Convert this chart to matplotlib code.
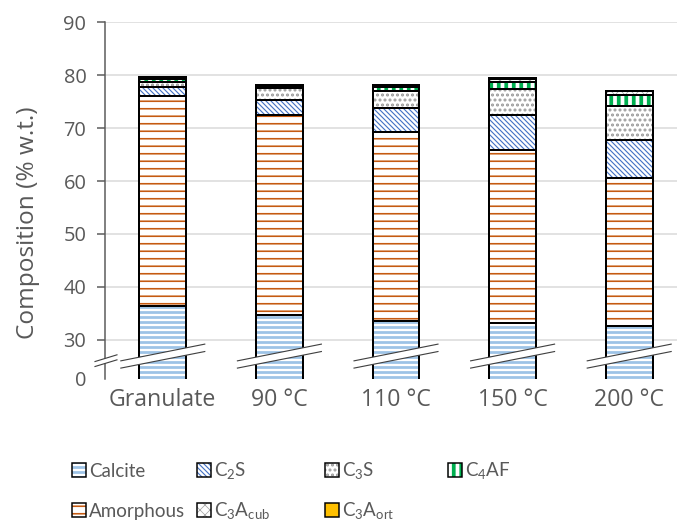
import numpy as np
import matplotlib.pyplot as plt
import matplotlib.transforms as mtransforms
from matplotlib.patches import Polygon, Rectangle

DPI = 90
W, H = 677, 522

categories = ['Granulate', '90 °C', '110 °C', '150 °C', '200 °C']
calcite = [36.4, 34.7, 33.6, 33.1, 32.6]
amorphous = [39.6, 37.7, 35.7, 32.8, 27.9]
c2s = [1.7, 3.0, 4.5, 6.5, 7.2]
c3s = [1.0, 2.1, 3.3, 5.0, 6.4]
c4af = [0.6, 0.4, 0.6, 1.3, 2.1]
c3a_cub = [0.3, 0.3, 0.5, 0.6, 0.8]
c3a_ort = [0.0, 0.0, 0.0, 0.2, 0.0]

yticks = [30, 40, 50, 60, 70, 80, 90]
ybottom = 22.6          # plotted bottom of the broken axis, labelled "0"

phases = ['Calcite', 'Amorphous', 'C2S', 'C3S', 'C4AF', 'C3Acub', 'C3Aort']
series = [calcite, amorphous, c2s, c3s, c4af, c3a_cub, c3a_ort]
labels = {'Calcite': 'Calcite', 'Amorphous': 'Amorphous',
          'C2S': r'C$_\mathrm{2}$S', 'C3S': r'C$_\mathrm{3}$S',
          'C4AF': r'C$_\mathrm{4}$AF', 'C3Acub': r'C$_\mathrm{3}$A$_\mathrm{cub}$',
          'C3Aort': r'C$_\mathrm{3}$A$_\mathrm{ort}$'}
styles = {
    'Calcite':   dict(face='white', hcol='#9dc3e6', hatch='---', hlw=2.2),
    'Amorphous': dict(face='white', hcol='#c55a11', hatch='--', hlw=1.3),
    'C2S':       dict(face='white', hcol='#4472c4', hatch='\\' * 6, hlw=0.9),
    'C3S':       dict(face='white', hcol='#9a9a9a', hatch='...', hlw=1.6),
    'C4AF':      dict(face='white', hcol='#00b050', hatch='||', hlw=3.0),
    'C3Acub':    dict(face='white', hcol='#a6a6a6', hatch='xxx', hlw=0.6),
    'C3Aort':    dict(face='#ffc000', hcol='#ffc000', hatch=None, hlw=0.6),
}
legend_rows = [['Calcite', 'C2S', 'C3S', 'C4AF'],
               ['Amorphous', 'C3Acub', 'C3Aort']]

plt.rcParams['font.family'] = ['Open Sans', 'DejaVu Sans']
plt.rcParams['mathtext.fontset'] = 'custom'
plt.rcParams['mathtext.rm'] = 'Lato'
grey = '#595959'

fig = plt.figure(figsize=(W / DPI, H / DPI), dpi=DPI)
ax = fig.add_axes([104.5 / W, 1 - 379 / H, 583 / W, (379 - 22.3) / H])


def hatched(obj, st):
    if hasattr(obj, 'set_hatch_linewidth'):
        obj.set_hatch_linewidth(st['hlw'])


x = np.arange(len(categories))
width = 0.4
bottom = np.zeros(len(categories))
for name, vals in zip(phases, series):
    st = styles[name]
    vals = np.array(vals)
    with plt.rc_context({'hatch.linewidth': st['hlw']}):
        bars = ax.bar(x, vals, width, bottom=bottom, color=st['face'],
                      edgecolor=st['hcol'], hatch=st['hatch'], linewidth=0, zorder=2)
    for b in bars:
        hatched(b, st)
    ax.bar(x, vals, width, bottom=bottom, fill=False, edgecolor='black',
           linewidth=1.6, zorder=3)
    bottom += vals

# break marks across bars
half = 0.36
lo = (24.66, 27.79)
hi = (26.03, 29.19)
for c in x:
    ax.add_patch(Polygon([(c - half, lo[0]), (c + half, lo[1]), (c + half, hi[1]), (c - half, hi[0])],
                         closed=True, fc='white', ec='none', zorder=4, clip_on=False))
    ax.plot([c - half, c + half], lo, color='#404040', lw=0.9, zorder=5, clip_on=False)
    ax.plot([c - half, c + half], hi, color='#404040', lw=0.9, zorder=5, clip_on=False)

# break mark on the y axis
tr = mtransforms.blended_transform_factory(ax.transAxes, ax.transData)
bx = (-0.0163, 0.0214)
blo = (24.96, 26.22)
bhi = (25.9, 27.17)
ax.add_patch(Polygon([(bx[0], blo[0]), (bx[1], blo[1]), (bx[1], bhi[1]), (bx[0], bhi[0])],
                     closed=True, fc='white', ec='none', zorder=6, clip_on=False, transform=tr))
ax.plot(bx, blo, color='#404040', lw=0.9, zorder=7, clip_on=False, transform=tr)
ax.plot(bx, bhi, color='#404040', lw=0.9, zorder=7, clip_on=False, transform=tr)

ax.set_xlim(-0.5, len(categories) - 0.5)
ax.set_ylim(ybottom, 90)
ax.set_yticks([ybottom] + yticks)
ax.set_yticklabels(['0'] + [str(t) for t in yticks])
ax.set_xticks(x)
ax.set_xticklabels(categories)
ax.yaxis.grid(True, color='#d9d9d9', lw=1.2)
ax.set_axisbelow(True)
ax.get_ygridlines()[0].set_visible(False)
ax.yaxis.get_major_ticks()[0].tick1line.set_visible(False)
ax.tick_params(axis='y', length=6.4, width=1.2, color=grey, labelcolor=grey,
               labelsize=16, pad=8)
ax.tick_params(axis='x', length=0, labelcolor=grey, labelsize=18.5, pad=7)
for s in ['top', 'right', 'bottom']:
    ax.spines[s].set_visible(False)
ax.spines['left'].set_color(grey)
ax.spines['left'].set_linewidth(1.2)

fig.text(28 / W, 1 - 223 / H, 'Composition (% w.t.)', rotation=90, ha='center',
         va='center', fontsize=19.5, color=grey)

# legend drawn by hand to keep the uneven column layout
col_x = [72, 197, 325, 448]
row_y = [470, 510]
row_base = [477, 517]
for r, row in enumerate(legend_rows):
    for c, name in enumerate(row):
        st = styles[name]
        x0, yc = col_x[c], row_y[r]
        with plt.rc_context({'hatch.linewidth': st['hlw']}):
            h = Rectangle((x0 / W, 1 - (yc + 7) / H), 14 / W, 14 / H, transform=fig.transFigure,
                          facecolor=st['face'], edgecolor=st['hcol'], hatch=st['hatch'], lw=0)
        hatched(h, st)
        fig.add_artist(h)
        fig.add_artist(Rectangle((x0 / W, 1 - (yc + 7) / H), 14 / W, 14 / H,
                                 transform=fig.transFigure, fill=False, edgecolor='black', lw=1.2))
        fig.text((x0 + 17) / W, 1 - row_base[r] / H, labels[name], ha='left', va='baseline',
                 fontsize=15, family=['Lato', 'DejaVu Sans'], color=grey)

fig.savefig('out.png', dpi=DPI)
